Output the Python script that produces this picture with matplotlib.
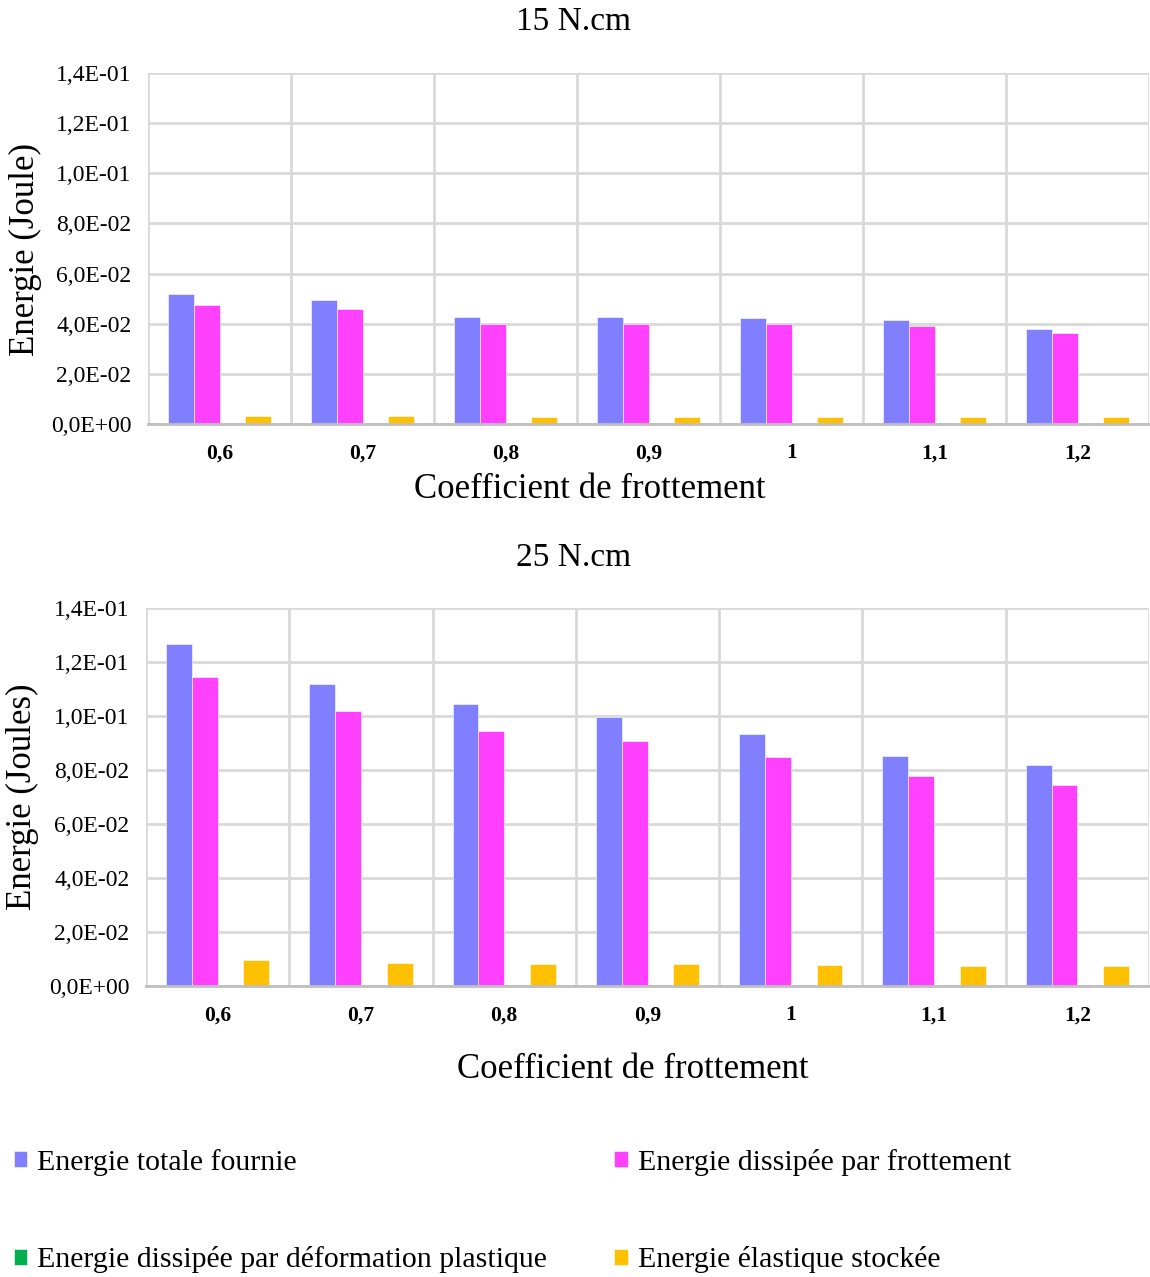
import numpy as np
import matplotlib
matplotlib.use("Agg")
import matplotlib.pyplot as plt
from matplotlib.ticker import FuncFormatter

plt.rcParams['font.family'] = ['Liberation Serif', 'DejaVu Serif']

# Données
coefficients = ['0,6', '0,7', '0,8', '0,9', '1', '1,1', '1,2']

# 15 N.cm
totale_15 = [0.0519, 0.0495, 0.0428, 0.0428, 0.0423, 0.0414, 0.0379]
frottement_15 = [0.0476, 0.0457, 0.0400, 0.0400, 0.0400, 0.0390, 0.0362]
plastique_15 = [0.0002, 0.0002, 0.0002, 0.0002, 0.0002, 0.0002, 0.0002]
elastique_15 = [0.0032, 0.0032, 0.0028, 0.0028, 0.0028, 0.0028, 0.0028]

# 25 N.cm
totale_25 = [0.1266, 0.1120, 0.1043, 0.0995, 0.0932, 0.0853, 0.0817]
frottement_25 = [0.1146, 0.1017, 0.0946, 0.0906, 0.0848, 0.0777, 0.0746]
plastique_25 = [0.0002, 0.0002, 0.0002, 0.0002, 0.0002, 0.0002, 0.0002]
elastique_25 = [0.0095, 0.0086, 0.0083, 0.0081, 0.0078, 0.0075, 0.0075]

noms = ['Energie totale fournie', 'Energie dissipée par frottement',
        'Energie dissipée par déformation plastique', 'Energie élastique stockée']
couleurs = ['#7F7FFF', '#FF40FF', '#00B050', '#FFC000']

W, H = 1150, 1277
fig = plt.figure(figsize=(W / 100, H / 100), dpi=100)


def sci_fr(v, pos):
    s = '%.1E' % v
    mant, exp = s.split('E')
    e = int(exp)
    return mant.replace('.', ',') + 'E' + ('+' if e >= 0 else '-') + '%02d' % abs(e)


def tracer(ax, series):
    x = np.arange(len(coefficients))
    w = 0.18
    bars = []
    for i, (vals, c) in enumerate(zip(series, couleurs)):
        b = ax.bar(x + (i - 1.5) * w, vals, w, color=c, edgecolor='white',
                   linewidth=0.4, zorder=3)
        bars.append(b)
    ax.set_xlim(-0.5, len(coefficients) - 0.5)
    ax.set_ylim(0, 0.14)
    ax.set_yticks(np.arange(0, 0.1401, 0.02))
    ax.yaxis.set_major_formatter(FuncFormatter(sci_fr))
    ax.set_xticks(x)
    ax.set_xticklabels(coefficients, fontweight='bold', fontsize=15.5)
    ax.set_xticks(np.arange(-0.5, len(coefficients), 1), minor=True)
    ax.tick_params(axis='both', which='both', length=0)
    ax.tick_params(axis='y', labelsize=17, pad=12)
    ax.tick_params(axis='x', pad=14)
    ax.grid(axis='y', which='major', color='#D9D9D9', linewidth=2, zorder=0)
    ax.grid(axis='x', which='minor', color='#D9D9D9', linewidth=2, zorder=0)
    for s in ['left', 'right', 'top']:
        ax.spines[s].set_visible(False)
    ax.spines['bottom'].set_color('#BFBFBF')
    ax.spines['bottom'].set_linewidth(2)
    ax.spines['bottom'].set_zorder(4)
    return bars


def fx(px):
    return px / W


def fy(py):
    return 1 - py / H


ax1 = fig.add_axes([fx(148), fy(424), fx(1149 - 148), (424 - 73) / H])
bars = tracer(ax1, [totale_15, frottement_15, plastique_15, elastique_15])

ax2 = fig.add_axes([fx(146), fy(986), fx(1149 - 146), (986 - 608) / H])
tracer(ax2, [totale_25, frottement_25, plastique_25, elastique_25])

fig.text(fx(574), fy(22), '15 N.cm', ha='center', va='center', fontsize=24)
fig.text(fx(574), fy(558), '25 N.cm', ha='center', va='center', fontsize=24)
fig.text(fx(25), fy(250), 'Energie (Joule)', rotation=90, ha='center', va='center', fontsize=25)
fig.text(fx(22), fy(797), 'Energie (Joules)', rotation=90, ha='center', va='center', fontsize=25)
fig.text(fx(590), fy(489), 'Coefficient de frottement', ha='center', va='center', fontsize=25)
fig.text(fx(633), fy(1069), 'Coefficient de frottement', ha='center', va='center', fontsize=25)

# légende sur deux colonnes, remplie ligne par ligne
ordre = [0, 2, 1, 3]
fig.legend([bars[i] for i in ordre], [noms[i] for i in ordre], ncol=2,
           loc='upper left', bbox_to_anchor=(fx(14), fy(1149)), frameon=False,
           fontsize=21.5, handlelength=0.45, handleheight=0.45,
           handletextpad=0.33, labelspacing=2.35, columnspacing=2.25,
           borderpad=0, borderaxespad=0)

fig.savefig('out.png', dpi=100)
